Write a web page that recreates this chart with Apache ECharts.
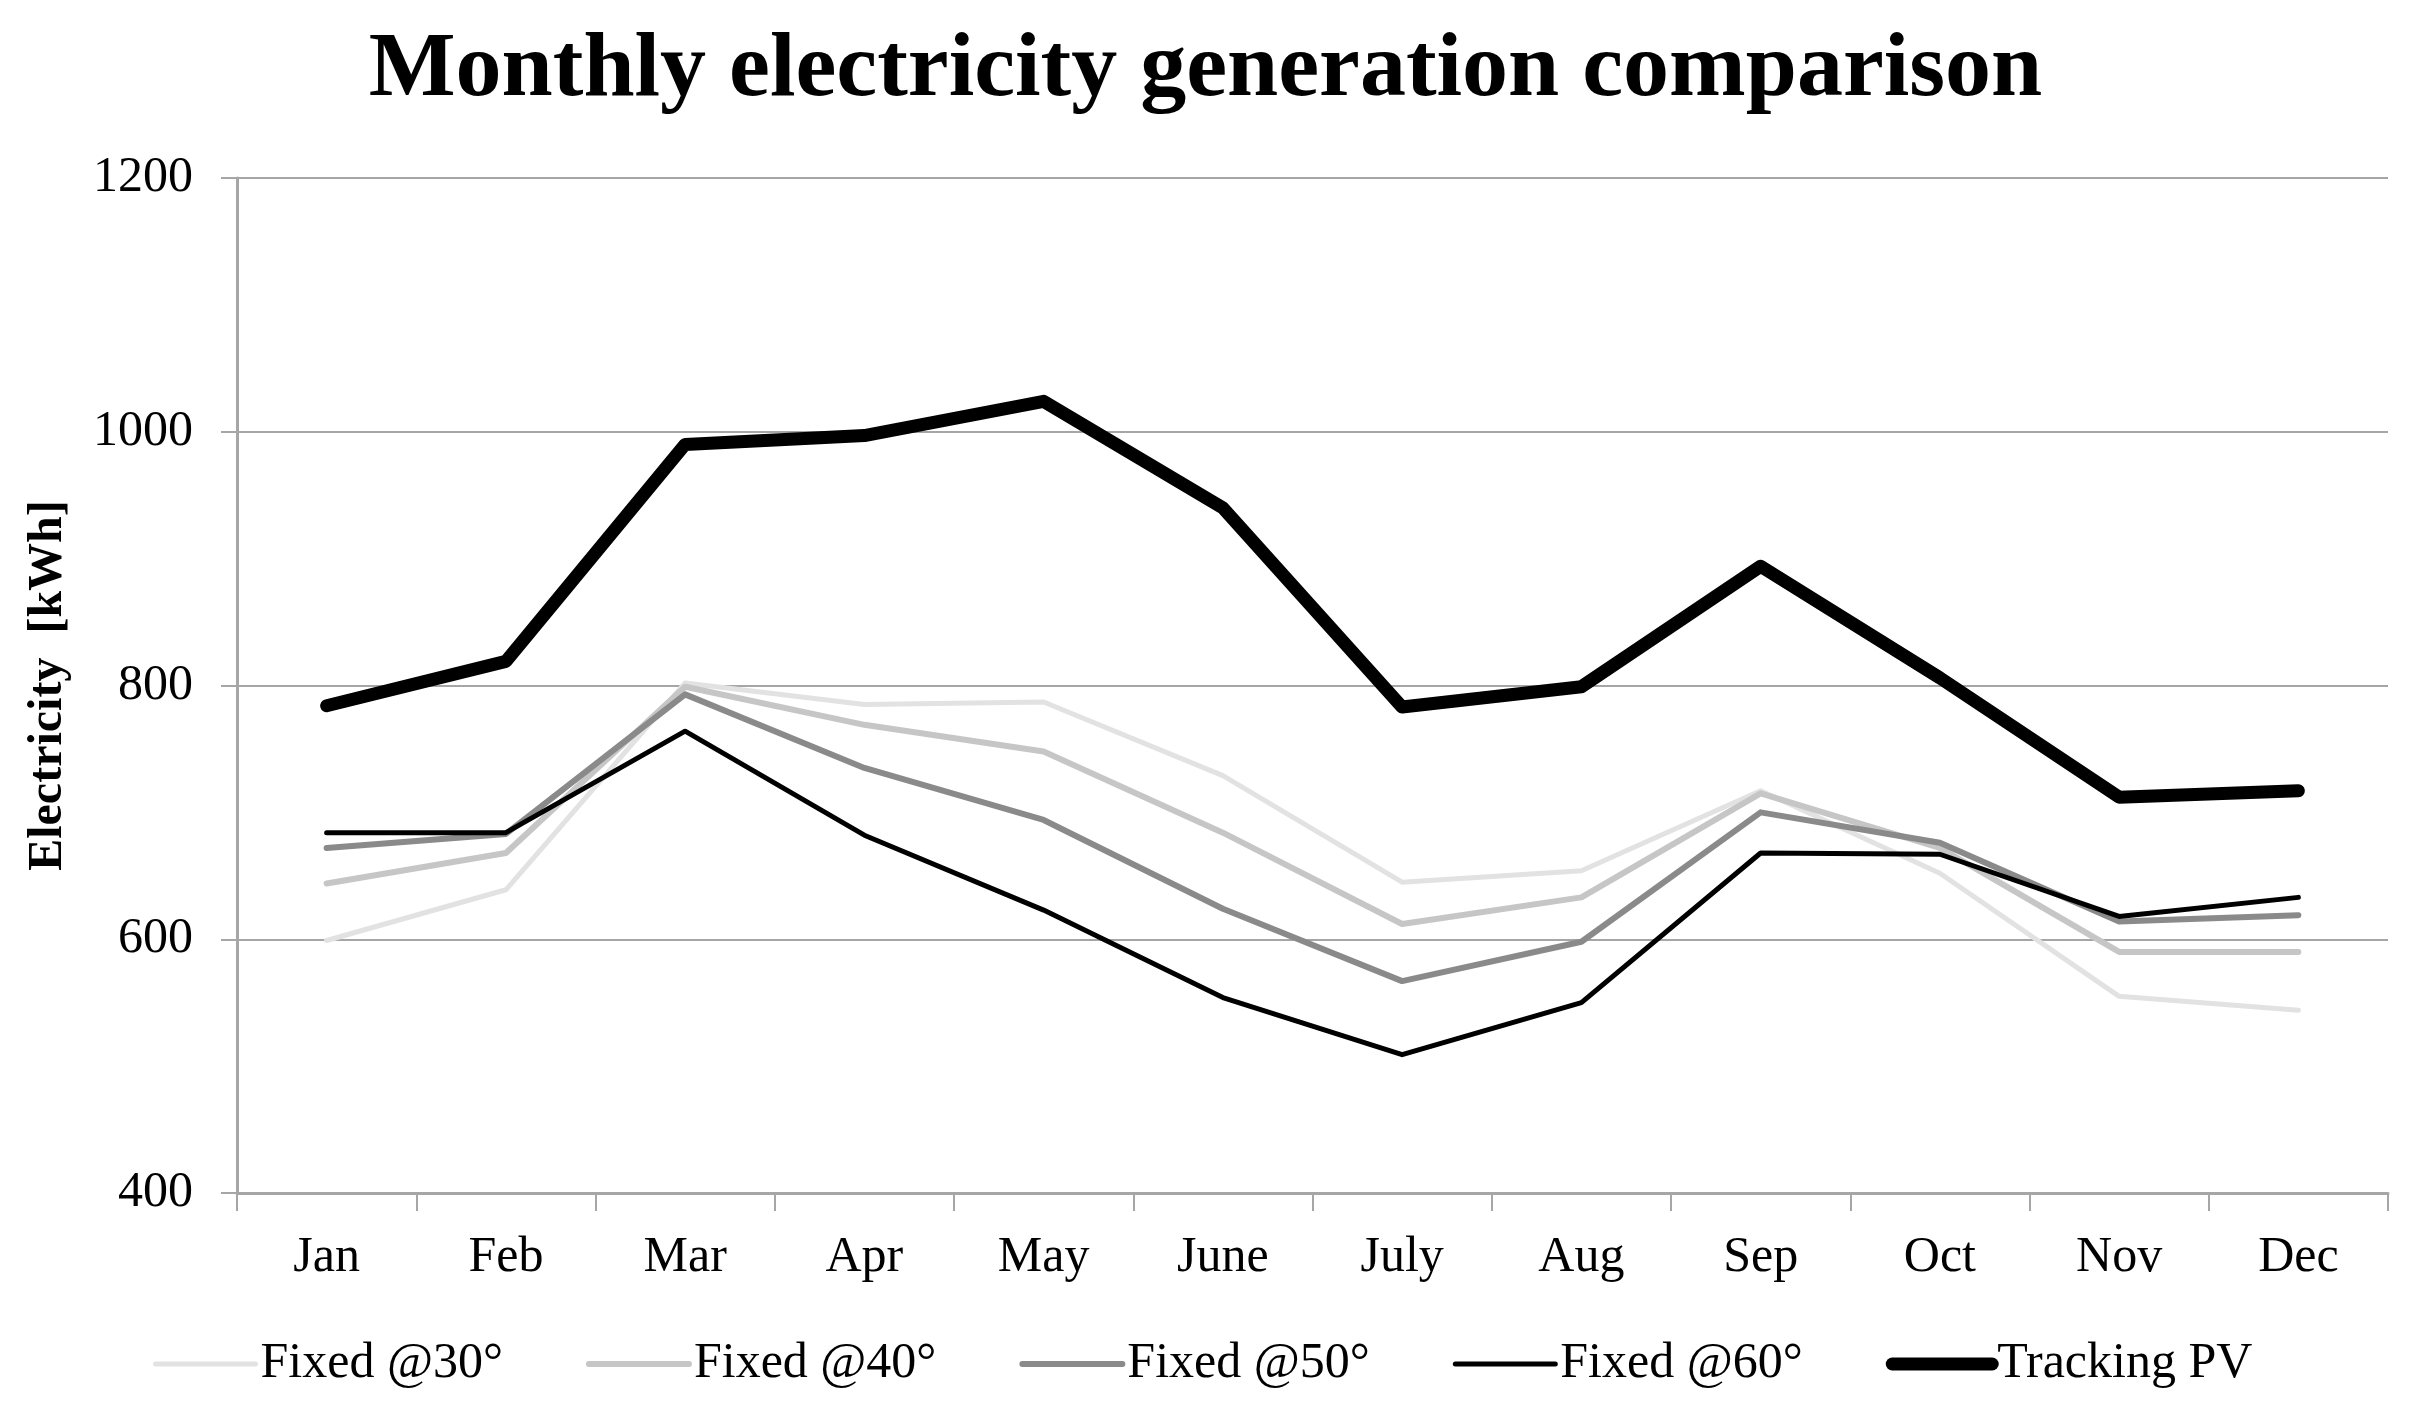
<!DOCTYPE html>
<html>
<head>
<meta charset="utf-8">
<script src="https://cdn.jsdelivr.net/npm/echarts@6/dist/echarts.min.js"></script>
<style>html,body{margin:0;padding:0;background:#fff;}#chart{width:2411px;height:1408px;}</style>
</head>
<body>
<div id="chart"></div>
<script>
const months = ['Jan','Feb','Mar','Apr','May','June','July','Aug','Sep','Oct','Nov','Dec'];
const fixed30 = [599, 639, 802, 785, 787, 729, 645, 654, 717, 652, 555, 544];
const fixed40 = [644, 668, 799, 769, 748, 684, 612, 633, 715, 672, 590, 590];
const fixed50 = [672, 683, 793, 735, 694, 624, 567, 598, 700, 676, 614, 619];
const fixed60 = [684, 684, 764, 682, 623, 554, 509, 550, 668, 667, 618, 633];
const tracking = [784, 819, 990, 997, 1024, 940, 783, 799, 894, 806, 712, 717];
const yTicks = [400, 600, 800, 1000, 1200];

const FONT = "'Times New Roman', 'Liberation Serif', serif";
const chart = echarts.init(document.getElementById('chart'));
function mk(name, data, color, width) {
  return {
    name, type: 'line', data, symbol: 'none', showSymbol: false,
    lineStyle: { color, width, cap: 'round', join: 'round' },
    itemStyle: { color },
    emphasis: { disabled: true }, animation: false
  };
}
chart.setOption({
  animation: false,
  backgroundColor: '#fff',
  title: {
    text: 'Monthly electricity generation comparison',
    left: 'center', top: 20,
    textStyle: { fontFamily: FONT, fontWeight: 'bold', fontSize: 92, color: '#000' }
  },
  grid: { left: 237, right: 23, top: 178, bottom: 215, containLabel: false },
  legend: {
    left: 148, bottom: 14,
    itemWidth: 100, itemHeight: 16, itemGap: 83,
    itemStyle: { opacity: 0 },
    lineStyle: { width: 'inherit', cap: 'round' },
    textStyle: { fontFamily: FONT, fontSize: 50, color: '#000' },
    data: ['Fixed @30°', 'Fixed @40°', 'Fixed @50°', 'Fixed @60°', 'Tracking PV']
  },
  xAxis: {
    type: 'category', data: months, boundaryGap: true,
    axisLine: { lineStyle: { color: '#a6a6a6', width: 3 } },
    axisTick: { show: true, length: 18, alignWithLabel: false, lineStyle: { color: '#a6a6a6', width: 2 } },
    axisLabel: { fontFamily: FONT, fontSize: 50, color: '#000', margin: 40 },
    splitLine: { show: false }
  },
  yAxis: {
    type: 'value', min: yTicks[0], max: yTicks[yTicks.length - 1], interval: 200,
    name: 'Electricity  [kWh]', nameLocation: 'middle', nameGap: 164,
    nameTextStyle: { fontFamily: FONT, fontWeight: 'bold', fontSize: 48, color: '#000' },
    axisLine: { show: true, lineStyle: { color: '#a6a6a6', width: 3 } },
    axisTick: { show: true, length: 16, lineStyle: { color: '#a6a6a6', width: 2 } },
    axisLabel: { fontFamily: FONT, fontSize: 50, color: '#000', margin: 44, formatter: (v) => String(v) },
    splitLine: { show: true, lineStyle: { color: '#a6a6a6', width: 2 } }
  },
  series: [
    mk('Fixed @30°', fixed30, '#e2e2e2', 5),
    mk('Fixed @40°', fixed40, '#c6c6c6', 6),
    mk('Fixed @50°', fixed50, '#8a8a8a', 6),
    mk('Fixed @60°', fixed60, '#000000', 5),
    mk('Tracking PV', tracking, '#000000', 13)
  ]
});
</script>
</body>
</html>
